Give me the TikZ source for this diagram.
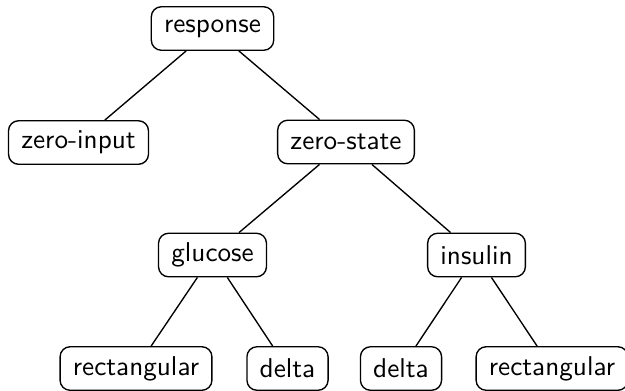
\documentclass[tikz,border=0pt]{standalone}
\renewcommand{\familydefault}{\sfdefault}
\begin{document}
\begin{tikzpicture}[x=0.3675pt,y=-0.3675pt,
  tnode/.style={draw, line width=0.5pt, rounded corners=3.7pt, inner xsep=4.7pt, inner ysep=0pt,
    minimum height=16pt, font=\fontsize{10}{12}\selectfont},
  conn/.style={line width=0.5pt}]
\useasboundingbox (0,0) rectangle (625,390);
\node[tnode] (resp) at (212.5,28.5) {response};
\node[tnode] (zi) at (78.5,142.5) {zero-input};
\node[tnode] (zs) at (346,142) {zero-state};
\node[tnode] (glu) at (212.5,255) {glucose};
\node[tnode] (ins) at (476.5,255) {insulin};
\node[tnode] (rl) at (136,368.5) {rectangular};
\node[tnode] (dl) at (287.5,368.5) {delta};
\node[tnode] (dr) at (401,368.5) {delta};
\node[tnode] (rr) at (552,368.5) {rectangular};
\draw[conn] (resp) -- (zi);
\draw[conn] (resp) -- (zs);
\draw[conn] (zs) -- (glu);
\draw[conn] (zs) -- (ins);
\draw[conn] (glu) -- (rl);
\draw[conn] (glu) -- (dl);
\draw[conn] (ins) -- (dr);
\draw[conn] (ins) -- (rr);
\end{tikzpicture}
\end{document}
